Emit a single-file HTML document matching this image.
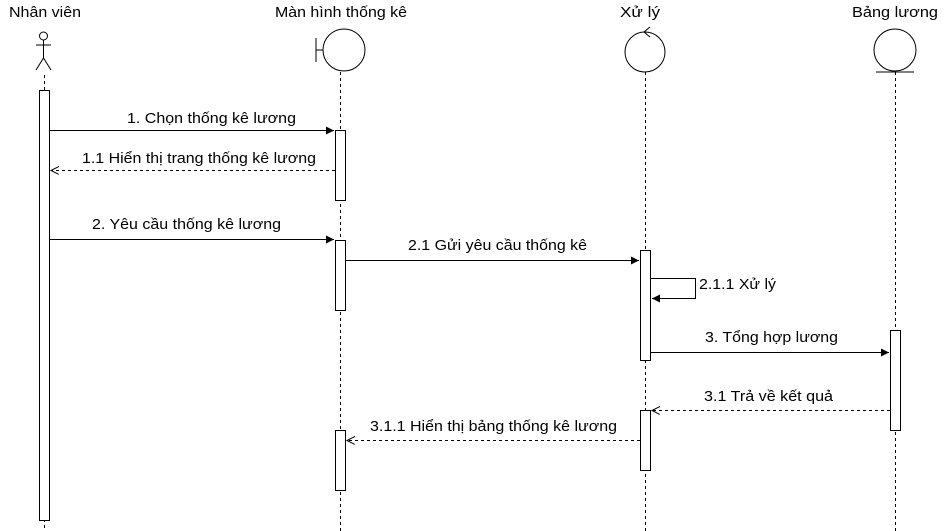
<!DOCTYPE html>
<html><head><meta charset="utf-8"><style>
html,body{margin:0;padding:0;background:#fff;}
svg{display:block;font-family:"Liberation Sans","DejaVu Sans",sans-serif;font-size:15px;}
</style></head><body>
<svg width="946" height="531" viewBox="0 0 946 531">
<defs>
<marker id="ah" markerWidth="10" markerHeight="10" refX="8" refY="4" orient="auto" markerUnits="userSpaceOnUse"><path d="M0,0 L8,4 L0,8 Z" fill="#000"/></marker>
<marker id="oh" markerWidth="10" markerHeight="10" refX="8" refY="4" orient="auto" markerUnits="userSpaceOnUse"><path d="M0,0 L8,4 L0,8" fill="none" stroke="#000"/></marker>
</defs>
<g fill="#000" lengthAdjust="spacingAndGlyphs">
<text x="9" y="17" textLength="72" lengthAdjust="spacingAndGlyphs">Nhân viên</text>
<text x="275" y="17" textLength="132" lengthAdjust="spacingAndGlyphs">Màn hình thống kê</text>
<text x="620" y="17" textLength="40" lengthAdjust="spacingAndGlyphs">Xử lý</text>
<text x="852" y="17" textLength="86" lengthAdjust="spacingAndGlyphs">Bảng lương</text>
</g>
<g stroke="#000" fill="none" stroke-width="1">
<g>
<circle cx="43.5" cy="36" r="4"/><line x1="43.5" y1="40" x2="43.5" y2="58"/><line x1="36" y1="45" x2="51" y2="45"/><line x1="43.5" y1="58" x2="36" y2="70"/><line x1="43.5" y1="58" x2="51" y2="70"/>
</g>
<g>
<circle cx="344" cy="50" r="21"/><line x1="316" y1="38" x2="316" y2="62"/><line x1="316" y1="50" x2="323" y2="50"/>
</g>
<g>
<circle cx="645" cy="52" r="20"/><path d="M650,27 L644,32 L650,37"/>
</g>
<g>
<circle cx="895" cy="50" r="21"/><line x1="876" y1="72" x2="914" y2="72"/>
</g>
<g stroke-dasharray="3,3">
<line x1="44.5" y1="75" x2="44.5" y2="531"/>
<line x1="340.5" y1="72" x2="340.5" y2="531"/>
<line x1="645.5" y1="72" x2="645.5" y2="531"/>
<line x1="895.5" y1="72" x2="895.5" y2="531"/>
</g>
</g>
<g stroke="#000" fill="#fff">
<rect x="39.5" y="90.5" width="10" height="430"/>
<rect x="335.5" y="130.5" width="10" height="70"/>
<rect x="335.5" y="240.5" width="10" height="70"/>
<rect x="335.5" y="430.5" width="10" height="60"/>
<rect x="640.5" y="250.5" width="10" height="110"/>
<rect x="640.5" y="410.5" width="10" height="60"/>
<rect x="890.5" y="330.5" width="10" height="100"/>
</g>
<g stroke="#000" fill="none">
<line x1="50" y1="130.5" x2="334" y2="130.5" marker-end="url(#ah)"/>
<line x1="335" y1="170.5" x2="51" y2="170.5" stroke-dasharray="3,3" marker-end="url(#oh)"/>
<line x1="50" y1="239.5" x2="334" y2="239.5" marker-end="url(#ah)"/>
<line x1="346" y1="260.5" x2="639" y2="260.5" marker-end="url(#ah)"/>
<path d="M651,278.5 H695.5 V298.5 H652" marker-end="url(#ah)"/>
<line x1="651" y1="352.5" x2="889" y2="352.5" marker-end="url(#ah)"/>
<line x1="890" y1="410.5" x2="652" y2="410.5" stroke-dasharray="3,3" marker-end="url(#oh)"/>
<line x1="640" y1="440.5" x2="347" y2="440.5" stroke-dasharray="3,3" marker-end="url(#oh)"/>
</g>
<g fill="#000">
<text x="127" y="123" textLength="169" lengthAdjust="spacingAndGlyphs">1. Chọn thống kê lương</text>
<text x="82" y="163" textLength="234" lengthAdjust="spacingAndGlyphs">1.1 Hiển thị trang thống kê lương</text>
<text x="92" y="229" textLength="189" lengthAdjust="spacingAndGlyphs">2. Yêu cầu thống kê lương</text>
<text x="408" y="250" textLength="179" lengthAdjust="spacingAndGlyphs">2.1 Gửi yêu cầu thống kê</text>
<text x="699" y="289" textLength="77" lengthAdjust="spacingAndGlyphs">2.1.1 Xử lý</text>
<text x="705" y="342" textLength="133" lengthAdjust="spacingAndGlyphs">3. Tổng hợp lương</text>
<text x="704" y="401" textLength="129" lengthAdjust="spacingAndGlyphs">3.1 Trả về kết quả</text>
<text x="370" y="431" textLength="247" lengthAdjust="spacingAndGlyphs">3.1.1 Hiển thị bảng thống kê lương</text>
</g>
</svg>
</body></html>
